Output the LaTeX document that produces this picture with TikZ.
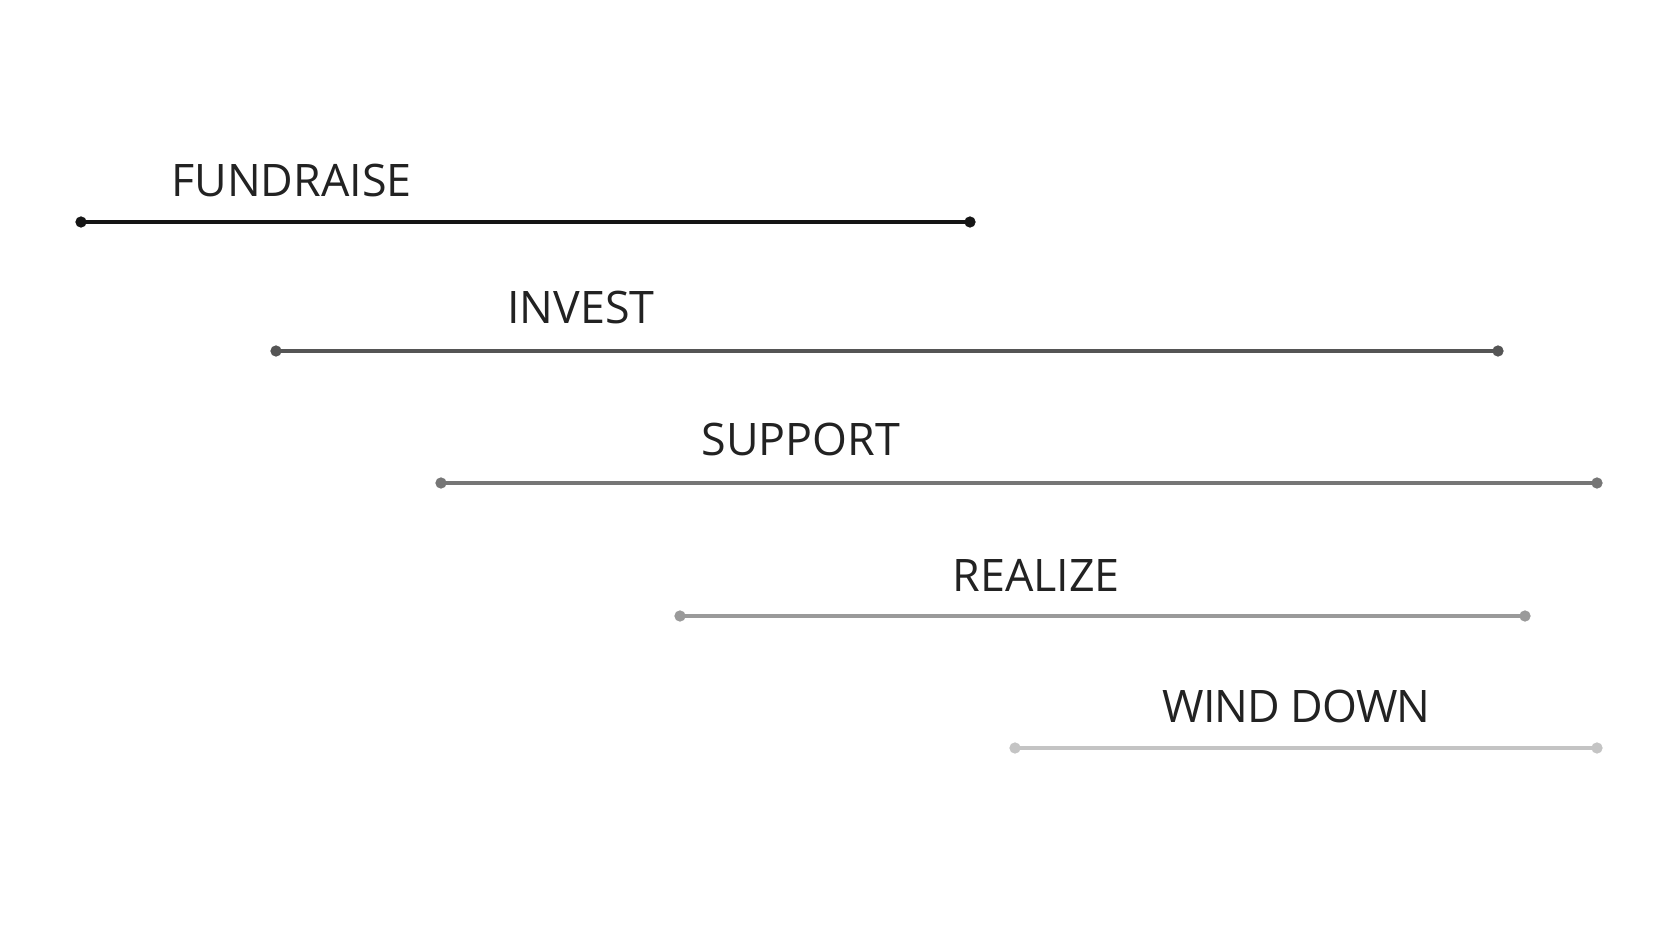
\documentclass[tikz,border=0pt]{standalone}
\usepackage{fontspec}
\setmainfont{Open Sans}
\usetikzlibrary{positioning}

\definecolor{phaseA}{HTML}{151515}
\definecolor{phaseB}{HTML}{555555}
\definecolor{phaseC}{HTML}{767676}
\definecolor{phaseD}{HTML}{9A9A9A}
\definecolor{phaseE}{HTML}{C4C4C4}
\definecolor{labeltext}{HTML}{222222}

\begin{document}
\begin{tikzpicture}[x=0.5pt,y=-0.5pt,
    label/.style={anchor=base west, inner sep=0pt, text=labeltext, font=\fontsize{22.4}{26}\selectfont},
    phase/.style={line width=1.6pt}]

            % Rahmen
            \fill[white] (0,0) rectangle (1672,941);
            \useasboundingbox (0,0) rectangle (1672,941);

            % Beschriftungen
            \node[label] (fundraise) at (171,197) {FUNDRAISE};
            \node[label] (invest) at (507,324) {INVEST};
            \node[label] (support) at (701,455) {SUPPORT};
            \node[label] (realize) at (952,591) {REALIZE};
            \node[label] (winddown) at (1162,722) {\addfontfeature{LetterSpace=-2}WIND DOWN};

            % Endpunkte der Phasen
            \coordinate (fundraise-a) at (81,222);
            \coordinate (fundraise-b) at (970,222);
            \coordinate (invest-a) at (276,351);
            \coordinate (invest-b) at (1498,351);
            \coordinate (support-a) at (441,483);
            \coordinate (support-b) at (1597,483);
            \coordinate (realize-a) at (680,616);
            \coordinate (realize-b) at (1525,616);
            \coordinate (winddown-a) at (1015,748);
            \coordinate (winddown-b) at (1597,748);

            % Linien mit Punkten
            \draw[phase, phaseA] (fundraise-a) -- (fundraise-b);
            \filldraw[phaseA] (fundraise-a) circle (2.6pt) (fundraise-b) circle (2.6pt);
            \draw[phase, phaseB] (invest-a) -- (invest-b);
            \filldraw[phaseB] (invest-a) circle (2.6pt) (invest-b) circle (2.6pt);
            \draw[phase, phaseC] (support-a) -- (support-b);
            \filldraw[phaseC] (support-a) circle (2.6pt) (support-b) circle (2.6pt);
            \draw[phase, phaseD] (realize-a) -- (realize-b);
            \filldraw[phaseD] (realize-a) circle (2.6pt) (realize-b) circle (2.6pt);
            \draw[phase, phaseE] (winddown-a) -- (winddown-b);
            \filldraw[phaseE] (winddown-a) circle (2.6pt) (winddown-b) circle (2.6pt);

\end{tikzpicture}
\end{document}
